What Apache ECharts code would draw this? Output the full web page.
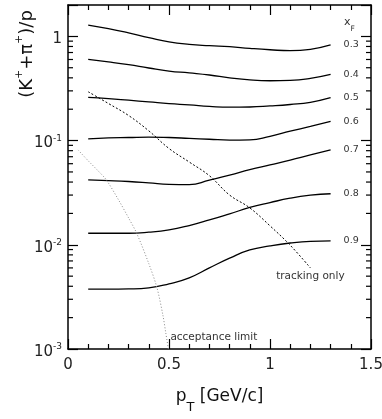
<!DOCTYPE html>
<html>
<head>
<meta charset="utf-8">
<script src="https://cdn.jsdelivr.net/npm/echarts@6/dist/echarts.min.js"></script>
<style>html,body{margin:0;padding:0;background:#fff}#c{width:382px;height:419px}</style>
</head>
<body>
<div id="c"></div>
<script>
// ---- data ----
const pT = [0.1, 0.2, 0.3, 0.4, 0.5, 0.6, 0.7, 0.8, 0.9, 1.0, 1.1, 1.2, 1.3];
const xF03 = [1.28, 1.185, 1.08, 0.974, 0.885, 0.838, 0.814, 0.796, 0.767, 0.744, 0.729, 0.752, 0.829];
const xF04 = [0.601, 0.569, 0.535, 0.497, 0.465, 0.446, 0.426, 0.400, 0.382, 0.375, 0.378, 0.395, 0.431];
const xF05 = [0.260, 0.253, 0.244, 0.235, 0.226, 0.220, 0.213, 0.209, 0.210, 0.215, 0.222, 0.233, 0.258];
const xF06 = [0.104, 0.106, 0.107, 0.108, 0.107, 0.105, 0.103, 0.101, 0.1015, 0.110, 0.123, 0.137, 0.153];
const xF07 = [0.0419, 0.0413, 0.0405, 0.0393, 0.0380, 0.0378, 0.0418, 0.0465, 0.0525, 0.0584, 0.065, 0.0728, 0.0813];
const xF08 = [0.0129, 0.0129, 0.0129, 0.0132, 0.0139, 0.0153, 0.0173, 0.0198, 0.0228, 0.0254, 0.028, 0.0299, 0.0309];
const xF09 = [0.00375, 0.00375, 0.00377, 0.00386, 0.00422, 0.00482, 0.0060, 0.00744, 0.00893, 0.00975, 0.0104, 0.0108, 0.0109];
const xFLabels = ['0.3', '0.4', '0.5', '0.6', '0.7', '0.8', '0.9'];

const trackX = [0.1, 0.2, 0.3, 0.4, 0.5, 0.6, 0.7, 0.8, 0.9, 1.0, 1.1, 1.2];
const trackY = [0.294, 0.227, 0.174, 0.124, 0.084, 0.0623, 0.046, 0.030, 0.0226, 0.0152, 0.0099, 0.006];

const accX = [0.05, 0.1, 0.15, 0.19, 0.25, 0.3, 0.34, 0.4, 0.44, 0.47, 0.484, 0.497];
const accY = [0.0813, 0.064, 0.051, 0.0419, 0.027, 0.0181, 0.0129, 0.0066, 0.0039, 0.0021, 0.00143, 0.001];

const xMin = 0, xMax = 1.5, xInterval = 0.5;
const yMin = 0.001, yMax = 2;
const decades = [0.001, 0.01, 0.1, 1];

// ---- build ----
const FONT = 'DejaVu Sans';
const curves = [xF03, xF04, xF05, xF06, xF07, xF08, xF09];
const minorVals = [];
decades.forEach(d => { for (let m = 2; m <= 9; m++) { if (m * d < yMax) minorVals.push(m * d); } });

const chart = echarts.init(document.getElementById('c'), null, {renderer: 'canvas'});

const xAxisBase = {
  type: 'value', min: xMin, max: xMax, interval: xInterval,
  axisLine: {show: true, onZero: false, lineStyle: {color: '#000', width: 1.5}},
  axisTick: {show: true, inside: true, length: 10, lineStyle: {color: '#000', width: 1.2}},
  minorTick: {show: true, splitNumber: 5, length: 5, lineStyle: {color: '#000', width: 1.2}},
  splitLine: {show: false}, minorSplitLine: {show: false}
};
const yAxisBase = {
  type: 'log', logBase: 10, min: yMin, max: yMax,
  axisLine: {show: true, onZero: false, lineStyle: {color: '#000', width: 1.5}},
  axisTick: {show: true, inside: true, length: 10, lineStyle: {color: '#000', width: 1.2}},
  minorTick: {show: false},
  splitLine: {show: false}
};

function expFmt(v) {
  const e = Math.log10(v);
  const r = Math.round(e);
  if (Math.abs(e - r) > 1e-6) return '';
  if (r === 0) return '{b|1}';
  return '{b|10}{s|' + r + '}';
}

const series = curves.map((vals, i) => ({
  type: 'line', xAxisIndex: 0, yAxisIndex: 0,
  data: pT.map((x, j) => [x, vals[j]]),
  smooth: 0.5, symbol: 'none', showSymbol: false,
  lineStyle: {color: '#000', width: 1.3},
  endLabel: {show: true, formatter: xFLabels[i], distance: 13, color: '#333', fontSize: 9.5, fontFamily: FONT},
  z: 3
}));

series.push({
  type: 'line', xAxisIndex: 0, yAxisIndex: 0,
  data: trackX.map((x, j) => [x, trackY[j]]),
  smooth: 0.4, symbol: 'none', showSymbol: false,
  lineStyle: {color: '#000', width: 1, type: [2, 2]},
  markPoint: {
    symbol: 'circle', symbolSize: 0, silent: true,
    data: [{coord: [trackX[trackX.length - 1], trackY[trackY.length - 1]]}],
    label: {show: true, formatter: 'tracking only', position: 'bottom', distance: 3, color: '#333', fontSize: 10.5, fontFamily: FONT}
  },
  z: 3
});

series.push({
  type: 'line', xAxisIndex: 0, yAxisIndex: 0,
  data: accX.map((x, j) => [x, accY[j]]),
  smooth: 0.3, symbol: 'none', showSymbol: false,
  lineStyle: {color: '#888', width: 1, type: [1, 2]},
  markPoint: {
    symbol: 'circle', symbolSize: 0, silent: true,
    data: [{coord: [accX[accX.length - 1], accY[accY.length - 1]]}],
    label: {show: true, formatter: 'acceptance limit', position: 'right', distance: 2, offset: [0, -12], color: '#333', fontSize: 10.5, fontFamily: FONT}
  },
  z: 3
});

const yTitle = {
  id: 'ytitle', type: 'text', x: 25, y: 54, rotation: Math.PI / 2, silent: true,
  style: {
    text: '{a|(K}{s|+}{a|+π}{s|+}{a|)/p}',
    align: 'center', verticalAlign: 'middle', fill: '#111',
    rich: {
      a: {fontSize: 18, fontFamily: FONT, fill: '#111', color: '#111', verticalAlign: 'bottom', lineHeight: 22},
      s: {fontSize: 11, fontFamily: FONT, fill: '#111', color: '#111', verticalAlign: 'top', lineHeight: 12}
    }
  }
};

const option = {
  animation: false,
  backgroundColor: '#fff',
  grid: {left: 68, right: 11, top: 5, bottom: 70, containLabel: false, outerBoundsMode: 'none'},
  title: {
    text: '{x|x}{f|F}', left: 344, top: 17, padding: 0,
    textStyle: {rich: {
      x: {fontSize: 11, fontFamily: FONT, color: '#333', verticalAlign: 'top', lineHeight: 12, fontWeight: 'normal'},
      f: {fontSize: 7.5, fontFamily: FONT, color: '#333', verticalAlign: 'bottom', lineHeight: 16, fontWeight: 'normal'}
    }}
  },
  xAxis: [
    Object.assign({}, xAxisBase, {
      position: 'bottom',
      axisLabel: {show: true, margin: 9, color: '#222', fontSize: 15, fontFamily: FONT, showMinLabel: true, showMaxLabel: true},
      name: '{m|p}{t|T}{m| [GeV/c]}', nameLocation: 'middle', nameGap: 31,
      nameTextStyle: {rich: {
        m: {fontSize: 17, fontFamily: FONT, color: '#111', verticalAlign: 'middle', lineHeight: 18},
        t: {fontSize: 13, fontFamily: FONT, color: '#111', verticalAlign: 'bottom', lineHeight: 34}
      }}
    }),
    Object.assign({}, xAxisBase, {position: 'top', axisLabel: {show: false}})
  ],
  yAxis: [
    Object.assign({}, yAxisBase, {
      position: 'left',
      axisLabel: {show: true, margin: 6, formatter: expFmt, rich: {
        b: {fontSize: 15, fontFamily: FONT, color: '#222', padding: [6, 0, 0, 0]},
        s: {fontSize: 9, fontFamily: FONT, color: '#222', verticalAlign: 'top', padding: [4, 0, 0, 0]}
      }}
    }),
    Object.assign({}, yAxisBase, {position: 'right', axisLabel: {show: false}})
  ],
  series: series
};
chart.setOption(option);

// log-axis minor ticks (2..9 per decade), placed through the axis scale
const gEls = [yTitle];
minorVals.forEach((v) => {
  const l = chart.convertToPixel({xAxisIndex: 0, yAxisIndex: 0}, [xMin, v]);
  const r = chart.convertToPixel({xAxisIndex: 0, yAxisIndex: 0}, [xMax, v]);
  if (!l || !r) return;
  gEls.push({type: 'line', silent: true, z: 50,
    shape: {x1: l[0], y1: l[1], x2: l[0] + 5, y2: l[1]}, style: {stroke: '#000', lineWidth: 1.2}});
  gEls.push({type: 'line', silent: true, z: 50,
    shape: {x1: r[0] - 5, y1: r[1], x2: r[0], y2: r[1]}, style: {stroke: '#000', lineWidth: 1.2}});
});
chart.setOption({graphic: {elements: gEls}});
</script>
</body>
</html>
